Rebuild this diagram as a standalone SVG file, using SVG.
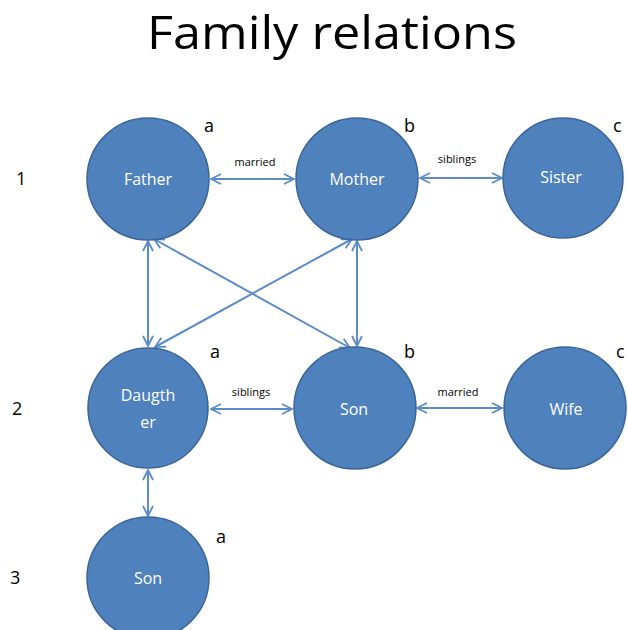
<svg xmlns="http://www.w3.org/2000/svg" width="628" height="630" viewBox="0 0 628 630">
<defs>
<style>
.node{fill:#4F81BD;stroke:#3A659A;stroke-width:1.5}
.nt{font-family:"Open Sans","Liberation Sans",sans-serif;font-size:16px;fill:#FFFFFF;text-anchor:middle}
.lbl{font-family:"Open Sans","Liberation Sans",sans-serif;font-size:18px;fill:#000000}
.el{font-family:"Open Sans","Liberation Sans",sans-serif;font-size:11px;fill:#000000;text-anchor:middle}
.c{stroke:#5B8BC9;stroke-width:2;fill:none;marker-start:url(#ah);marker-end:url(#ah)}
</style>
<marker id="ah" viewBox="0 0 12 12" refX="11" refY="6" markerWidth="12" markerHeight="12" markerUnits="userSpaceOnUse" orient="auto-start-reverse">
<path d="M1,1 L11,6 L1,11" fill="none" stroke="#5B8BC9" stroke-width="1.8"/>
</marker>
</defs>
<rect width="628" height="630" fill="#FFFFFF"/>
<text x="332" y="49" font-family="Open Sans,Liberation Sans,sans-serif" font-size="46" text-anchor="middle" textLength="370" lengthAdjust="spacingAndGlyphs" fill="#000000">Family relations</text>

<g id="rows" class="lbl">
<text x="16" y="185">1</text>
<text x="12" y="415">2</text>
<text x="10" y="584">3</text>
</g>

<g id="connectors">
<line class="c" x1="211" y1="179" x2="294" y2="179"/>
<line class="c" x1="420" y1="178" x2="502" y2="178"/>
<line class="c" x1="211" y1="409" x2="292" y2="409"/>
<line class="c" x1="417" y1="408" x2="502" y2="408"/>
<line class="c" x1="148" y1="241" x2="148" y2="346"/>
<line class="c" x1="357" y1="241" x2="357" y2="346"/>
<line class="c" x1="154" y1="239" x2="350" y2="348"/>
<line class="c" x1="352" y1="239" x2="155" y2="347"/>
<line class="c" x1="148" y1="470" x2="148" y2="516"/>
<text class="el" x="255" y="166">married</text>
<text class="el" x="457" y="163">siblings</text>
<text class="el" x="251" y="396">siblings</text>
<text class="el" x="458" y="396">married</text>
</g>

<g id="father"><circle class="node" cx="148" cy="179" r="61"/><text class="nt" x="148" y="185">Father</text><text class="lbl" x="204" y="132">a</text></g>
<g id="mother"><circle class="node" cx="357" cy="179" r="61"/><text class="nt" x="357" y="185">Mother</text><text class="lbl" x="404" y="132">b</text></g>
<g id="sister"><circle class="node" cx="563" cy="178" r="60"/><text class="nt" x="561" y="183">Sister</text><text class="lbl" x="613" y="132">c</text></g>
<g id="daughter"><circle class="node" cx="148" cy="408" r="60"/><text class="nt" x="148" y="401">Daugth</text><text class="nt" x="148" y="428">er</text><text class="lbl" x="210" y="358">a</text></g>
<g id="son"><circle class="node" cx="355" cy="408" r="61"/><text class="nt" x="354" y="415">Son</text><text class="lbl" x="404" y="358">b</text></g>
<g id="wife"><circle class="node" cx="565" cy="408" r="61"/><text class="nt" x="566" y="415">Wife</text><text class="lbl" x="616" y="358">c</text></g>
<g id="son2"><circle class="node" cx="148" cy="578" r="61"/><text class="nt" x="148" y="584">Son</text><text class="lbl" x="216" y="543">a</text></g>
</svg>
